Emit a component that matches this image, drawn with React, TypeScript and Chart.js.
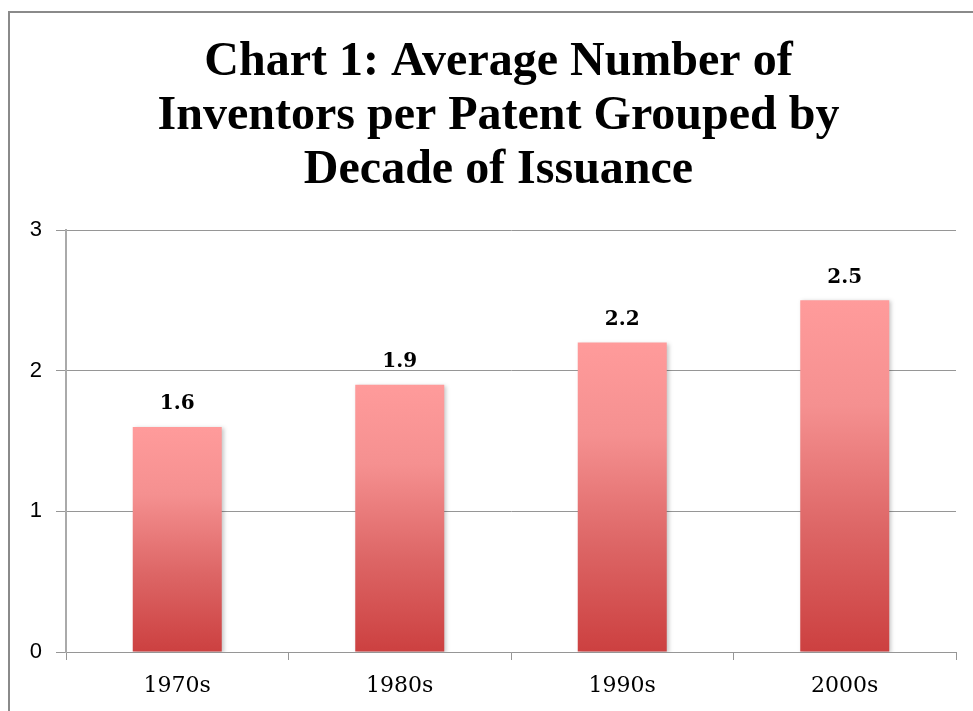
import React, { useEffect, useRef } from "react";
import { Chart, registerables } from "chart.js";

Chart.register(...registerables);

const categories = ["1970s", "1980s", "1990s", "2000s"];
const values = [1.6, 1.9, 2.2, 2.5];
const titleLines = [
  "Chart 1: Average Number of",
  "Inventors per Patent Grouped by",
  "Decade of Issuance",
];
const yTicks = [0, 1, 2, 3];

const shadowPlugin = {
  id: "barShadow",
  beforeDatasetsDraw(chart: any) {
    const c = chart.ctx;
    c.save();
    c.shadowColor = "rgba(0,0,0,0.22)";
    c.shadowBlur = 4;
    c.shadowOffsetX = 2;
    c.shadowOffsetY = 1;
  },
  afterDatasetsDraw(chart: any) {
    chart.ctx.restore();
  },
};

// widen the y scale's box to the canvas edge so its labels are not clipped
const yLabelAreaPlugin = {
  id: "yLabelArea",
  afterLayout(chart: any) {
    const y = chart.scales.y;
    if (y) y.left = 0;
  },
};

const labelPlugin = {
  id: "valueLabels",
  afterDraw(chart: any) {
    const c = chart.ctx;
    const meta = chart.getDatasetMeta(0);
    c.save();
    c.font = "bold 20px 'DejaVu Serif'";
    c.fillStyle = "#000";
    c.textAlign = "center";
    c.textBaseline = "middle";
    meta.data.forEach((bar: any, i: number) => {
      c.fillText(values[i].toFixed(1), bar.x, bar.y - 23);
    });
    c.restore();
  },
};

export default function App() {
  const ref = useRef<HTMLCanvasElement>(null);
  useEffect(() => {
    if (!ref.current) return;
    const chart = new Chart(ref.current, {
      type: "bar",
      data: {
        labels: categories,
        datasets: [
          {
            data: values,
            barPercentage: 0.4,
            categoryPercentage: 1,
            borderWidth: 0,
            backgroundColor: (ctx: any) => {
              const ch = ctx.chart;
              if (!ch.chartArea || ctx.type !== "data") return "#E07070";
              const v = ctx.raw as number;
              const top = ch.scales.y.getPixelForValue(v);
              const bottom = ch.scales.y.getPixelForValue(0);
              const g = ch.ctx.createLinearGradient(0, top, 0, bottom);
              g.addColorStop(0, "#FF9B9B");
              g.addColorStop(0.3, "#F59090");
              g.addColorStop(0.65, "#DD6666");
              g.addColorStop(1, "#CC4040");
              return g;
            },
          },
        ],
      },
      options: {
        animation: false,
        responsive: false,
        layout: { padding: { left: 31, right: 31, top: 0, bottom: 0 } },
        plugins: {
          legend: { display: false },
          tooltip: { enabled: false },
          title: {
            display: true,
            text: titleLines,
            color: "#000",
            font: { family: "'Liberation Serif'", size: 48, weight: "bold", lineHeight: 54 / 48 },
            padding: { top: 23, bottom: 32 },
          },
        },
        scales: {
          x: {
            offset: true,
            grid: {
              display: true,
              drawOnChartArea: false,
              drawTicks: true,
              tickLength: 8,
              color: "#969696",
              offset: true,
            },
            border: { display: true, color: "#969696", width: 1 },
            ticks: {
              color: "#000",
              padding: 13,
              font: { family: "'DejaVu Serif'", size: 22 },
            },
            afterFit(scale: any) {
              scale.height = 59;
            },
          },
          y: {
            min: 0,
            max: 3,
            afterBuildTicks(scale: any) {
              scale.ticks = yTicks.map((v) => ({ value: v }));
            },
            grid: {
              color: "#969696",
              lineWidth: 1,
              tickLength: 10,
              drawTicks: true,
            },
            border: { display: true, color: "#aaaaaa", width: 2 },
            ticks: {
              color: "#000",
              padding: 14,
              font: { family: "'Liberation Sans'", size: 22 },
            },
            afterFit(scale: any) {
              scale.width = 25;
            },
          },
        },
      },
      plugins: [shadowPlugin, yLabelAreaPlugin, labelPlugin],
    });
    return () => chart.destroy();
  }, []);

  return (
    <div
      style={{
        position: "fixed",
        left: 8,
        top: 11,
        width: 990,
        height: 720,
        borderLeft: "2px solid #8a8a8a",
        borderTop: "2px solid #8a8a8a",
        background: "#fff",
        overflow: "hidden",
      }}
    >
      <canvas ref={ref} width={977} height={698} style={{ display: "block" }} />
    </div>
  );
}
